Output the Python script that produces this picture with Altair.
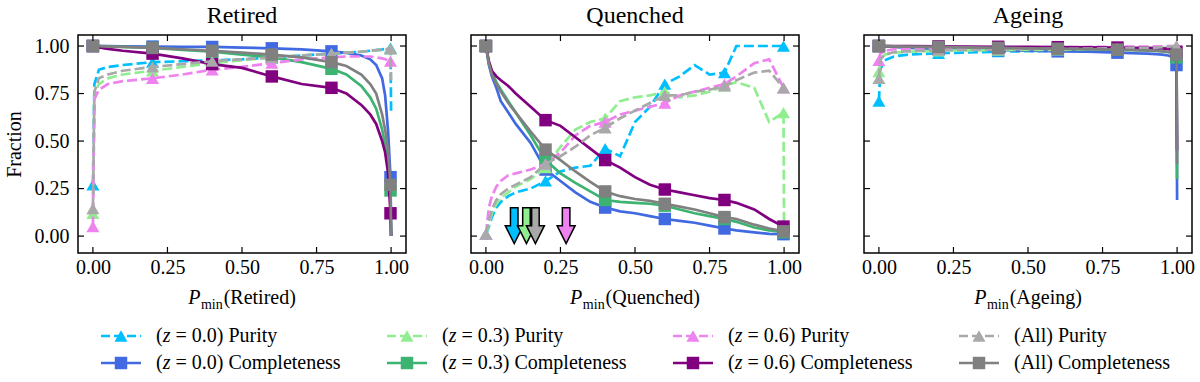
import altair as alt
import pandas as pd

FONT = "'Liberation Serif', 'DejaVu Serif', serif"

# ---------------------------------------------------------------- series
SERIES = [
    "(z = 0.0) Purity", "(z = 0.0) Completeness",
    "(z = 0.3) Purity", "(z = 0.3) Completeness",
    "(z = 0.6) Purity", "(z = 0.6) Completeness",
    "(All) Purity", "(All) Completeness",
]
COLORS = ["#00bfff", "#4169e1", "#90ee90", "#3cb371",
          "#ee82ee", "#800080", "#a9a9a9", "#808080"]
KINDS = ["Purity", "Completeness"] * 4

TICKS = [0.0, 0.25, 0.5, 0.75, 1.0]
MARK_X = [0.0, 0.2, 0.4, 0.6, 0.8, 0.998]

# ---------------------------------------------------------------- Retired
X_RET = [0, 0.005, 0.02, 0.05, 0.1, 0.2, 0.3, 0.4, 0.5, 0.6, 0.7, 0.8,
         0.85, 0.9, 0.93, 0.95, 0.97, 0.98, 0.99, 0.998, 1.0]
R_PUR_Z00 = [0.27, 0.80, 0.875, 0.89, 0.90, 0.915, 0.92, 0.925, 0.93, 0.94, 0.95,
             0.96, 0.965, 0.97, 0.975, 0.978, 0.982, 0.985, 0.99, 0.99, 0.66]
R_COM_Z00 = [1.0, 1.0, 1.0, 0.999, 0.998, 0.997, 0.996, 0.995, 0.992, 0.988, 0.982,
             0.972, 0.964, 0.95, 0.93, 0.90, 0.83, 0.74, 0.55, 0.31, 0.0]
R_PUR_Z03 = [0.12, 0.74, 0.80, 0.83, 0.85, 0.87, 0.89, 0.91, 0.925, 0.94, 0.95,
             0.96, 0.965, 0.97, 0.975, 0.978, 0.98, 0.982, 0.985, 0.985, 0.99]
R_COM_Z03 = [1.0, 1.0, 0.999, 0.998, 0.996, 0.99, 0.98, 0.97, 0.955, 0.94, 0.915,
             0.88, 0.85, 0.79, 0.73, 0.67, 0.56, 0.48, 0.38, 0.24, 0.0]
R_PUR_Z06 = [0.05, 0.72, 0.77, 0.80, 0.815, 0.83, 0.85, 0.875, 0.89, 0.91, 0.93,
             0.94, 0.945, 0.945, 0.945, 0.94, 0.935, 0.93, 0.925, 0.92, 0.92]
R_COM_Z06 = [1.0, 0.998, 0.993, 0.985, 0.975, 0.96, 0.935, 0.905, 0.885, 0.84, 0.80,
             0.78, 0.75, 0.69, 0.64, 0.59, 0.50, 0.44, 0.33, 0.12, 0.0]
R_PUR_ALL = [0.145, 0.76, 0.83, 0.85, 0.87, 0.89, 0.905, 0.92, 0.93, 0.94, 0.95,
             0.96, 0.965, 0.97, 0.975, 0.978, 0.98, 0.982, 0.985, 0.985, 0.82]
R_COM_ALL = [1.0, 1.0, 0.999, 0.997, 0.995, 0.99, 0.983, 0.975, 0.965, 0.955, 0.94,
             0.915, 0.895, 0.85, 0.80, 0.75, 0.64, 0.56, 0.45, 0.27, 0.0]

# ---------------------------------------------------------------- Quenched
X_QUE = [0, 0.01, 0.02, 0.035, 0.05, 0.075, 0.1, 0.15, 0.2, 0.25, 0.3, 0.35, 0.4,
         0.45, 0.5, 0.55, 0.6, 0.65, 0.7, 0.75, 0.8, 0.84, 0.9, 0.95, 0.998, 1.0]
Q_PUR_Z00 = [0.01, 0.05, 0.10, 0.15, 0.18, 0.21, 0.23, 0.25, 0.29, 0.34, 0.36, 0.37, 0.46,
             0.42, 0.60, 0.68, 0.80, 0.84, 0.90, 0.85, 0.86, 1.0, 1.0, 1.0, 1.0, 1.0]
Q_COM_Z00 = [1.0, 0.90, 0.84, 0.78, 0.71, 0.65, 0.59, 0.49, 0.35, 0.29, 0.23, 0.18, 0.15,
             0.13, 0.12, 0.105, 0.09, 0.08, 0.07, 0.055, 0.04, 0.03, 0.02, 0.012, 0.01, 0.005]
Q_PUR_Z03 = [0.01, 0.06, 0.12, 0.17, 0.20, 0.23, 0.26, 0.30, 0.36, 0.47, 0.56, 0.60, 0.62,
             0.71, 0.73, 0.74, 0.76, 0.73, 0.74, 0.76, 0.79, 0.81, 0.78, 0.60, 0.65, 0.01]
Q_COM_Z03 = [1.0, 0.91, 0.86, 0.81, 0.77, 0.71, 0.65, 0.53, 0.40, 0.33, 0.28, 0.235, 0.19,
             0.18, 0.175, 0.17, 0.16, 0.14, 0.12, 0.105, 0.09, 0.075, 0.045, 0.03, 0.02, 0.015]
Q_PUR_Z06 = [0.01, 0.15, 0.21, 0.26, 0.29, 0.32, 0.33, 0.35, 0.38, 0.44, 0.53, 0.58, 0.60,
             0.64, 0.66, 0.68, 0.70, 0.74, 0.76, 0.78, 0.80, 0.84, 0.91, 0.93, 0.78, 0.77]
Q_COM_Z06 = [1.0, 0.92, 0.87, 0.84, 0.82, 0.79, 0.75, 0.68, 0.61, 0.58, 0.52, 0.46, 0.40,
             0.36, 0.31, 0.27, 0.245, 0.23, 0.215, 0.20, 0.19, 0.175, 0.14, 0.09, 0.05, 0.03]
Q_PUR_ALL = [0.01, 0.08, 0.14, 0.19, 0.22, 0.25, 0.27, 0.31, 0.38, 0.42, 0.47, 0.53, 0.57,
             0.62, 0.66, 0.70, 0.74, 0.74, 0.76, 0.77, 0.79, 0.82, 0.86, 0.87, 0.78, 0.77]
Q_COM_ALL = [1.0, 0.91, 0.85, 0.80, 0.76, 0.70, 0.65, 0.55, 0.455, 0.40, 0.34, 0.285, 0.235,
             0.21, 0.195, 0.185, 0.17, 0.155, 0.14, 0.12, 0.10, 0.09, 0.06, 0.04, 0.025, 0.02]

# thresholds marked with arrows in the Quenched panel
ARROW_X = [0.095, 0.136, 0.166, 0.269]
ARROW_SERIES = ["(z = 0.0) Purity", "(z = 0.3) Purity", "(All) Purity", "(z = 0.6) Purity"]
ARROW_Y = 0.055

# ---------------------------------------------------------------- Ageing
X_AGE = X_RET
A_PUR_Z00 = [0.71, 0.88, 0.925, 0.945, 0.955, 0.962, 0.966, 0.97, 0.973, 0.975, 0.977,
             0.98, 0.982, 0.984, 0.986, 0.988, 0.99, 0.99, 0.99, 0.99, 0.99]
A_COM_Z00 = [1.0, 1.0, 0.998, 0.995, 0.99, 0.985, 0.982, 0.978, 0.975, 0.972, 0.97,
             0.965, 0.962, 0.96, 0.957, 0.955, 0.95, 0.945, 0.93, 0.90, 0.19]
A_PUR_Z03 = [0.865, 0.93, 0.955, 0.965, 0.97, 0.975, 0.977, 0.978, 0.98, 0.98, 0.982,
             0.984, 0.985, 0.987, 0.988, 0.99, 0.99, 0.992, 0.993, 0.995, 0.995]
A_COM_Z03 = [1.0, 1.0, 0.999, 0.998, 0.996, 0.993, 0.991, 0.99, 0.988, 0.986, 0.984,
             0.98, 0.978, 0.976, 0.974, 0.972, 0.968, 0.965, 0.96, 0.94, 0.30]
A_PUR_Z06 = [0.925, 0.96, 0.975, 0.983, 0.987, 0.99, 0.991, 0.992, 0.993, 0.994, 0.995,
             0.996, 0.997, 0.997, 0.998, 0.998, 0.999, 0.999, 1.0, 1.0, 1.0]
A_COM_Z06 = [1.0, 1.0, 1.0, 1.0, 0.999, 0.998, 0.997, 0.996, 0.995, 0.994, 0.993,
             0.992, 0.991, 0.99, 0.989, 0.988, 0.985, 0.98, 0.975, 0.97, 0.45]
A_PUR_ALL = [0.83, 0.93, 0.955, 0.968, 0.973, 0.978, 0.98, 0.982, 0.984, 0.985, 0.986,
             0.988, 0.99, 0.99, 0.992, 0.994, 0.996, 0.998, 1.0, 1.0, 1.0]
A_COM_ALL = [1.0, 1.0, 0.999, 0.998, 0.997, 0.995, 0.993, 0.99, 0.988, 0.986, 0.984,
             0.981, 0.979, 0.977, 0.975, 0.973, 0.97, 0.966, 0.96, 0.955, 0.38]

# ---------------------------------------------------------------- layout
W, H = 328, 218
XDOM = [-0.05, 1.05]
YDOM = [-0.089, 1.058]
LINE_W = 2.7
DASH = [10, 4]
TRI_SIZE = 170
SQ_SIZE = 155
ARROW_PATH = "M-0.21,-1L0.21,-1L0.21,0L0.5,0L0,1L-0.5,0L-0.21,0Z"

# glyph advance widths (em/1000) of the serif face, used to centre the x titles
GLYPH = {"(": 333, ")": 333, "R": 667, "e": 444, "t": 278, "i": 278, "r": 333,
         "d": 500, "Q": 722, "u": 500, "n": 500, "c": 444, "h": 500, "A": 722, "g": 500}

X_AXIS = alt.Axis(values=TICKS, format=".2f", ticks=False, domain=False, grid=False,
                  labelFont=FONT, labelFontSize=20, labelColor="black",
                  labelPadding=4, labelFlush=False, title=None)
Y_AXIS = alt.Axis(values=TICKS, format=".2f", ticks=False, domain=False, grid=False,
                  labelFont=FONT, labelFontSize=20, labelColor="black", labelPadding=9,
                  title="Fraction", titleFont=FONT, titleFontSize=20,
                  titleFontWeight="normal", titleColor="black", titlePadding=10)


def panel(name, xgrid, curves, with_y, arrows=False):
    xs = alt.Scale(domain=XDOM, nice=False, zero=False)
    ys = alt.Scale(domain=YDOM, nice=False, zero=False)
    df = pd.DataFrame([
        {"series": s, "x": x, "y": v, "marker": x in MARK_X}
        for s, vals in zip(SERIES, curves) for x, v in zip(xgrid, vals)
    ])
    y_axis = Y_AXIS if with_y else None
    X = alt.X("x:Q", scale=xs, axis=X_AXIS)
    Y = alt.Y("y:Q", scale=ys, axis=y_axis)

    layers = []
    for s, c, k in zip(SERIES, COLORS, KINDS):
        sub = alt.Chart(df).transform_filter(alt.datum.series == s)
        line_kw = {"color": c, "strokeWidth": LINE_W}
        if k == "Purity":
            line_kw["strokeDash"] = DASH
        layers.append(sub.mark_line(**line_kw).encode(x=X, y=Y))
        layers.append(
            sub.transform_filter("datum.marker")
            .mark_point(shape="triangle-up" if k == "Purity" else "square",
                        size=TRI_SIZE if k == "Purity" else SQ_SIZE,
                        filled=True, opacity=1, color=c)
            .encode(x=X, y=Y)
        )

    # inward ticks on all four sides
    tk = alt.Chart(pd.DataFrame({"t": TICKS})).mark_rule(color="black", strokeWidth=1.2)
    TY = alt.Y("t:Q", scale=ys, axis=y_axis)
    TX = alt.X("t:Q", scale=xs, axis=X_AXIS)
    layers += [
        tk.encode(y=TY, x=alt.value(0), x2=alt.value(6)),
        tk.encode(y=TY, x=alt.value(W - 6), x2=alt.value(W)),
        tk.encode(x=TX, y=alt.value(H - 6), y2=alt.value(H)),
        tk.encode(x=TX, y=alt.value(0), y2=alt.value(6)),
    ]

    # x title: P_min(name)
    one = alt.Data(values=[{"k": 0}])
    label = "(" + name + ")"
    name_w = sum(GLYPH.get(ch, 500) for ch in label) * 20 / 1000
    x0 = W / 2 - (35.5 + name_w) / 2
    base_y = H + 51
    layers += [
        alt.Chart(one).mark_text(text="P", font=FONT, fontSize=20, fontStyle="italic",
                                 align="left", baseline="alphabetic", color="black")
        .encode(x=alt.value(x0), y=alt.value(base_y)),
        alt.Chart(one).mark_text(text="min", font=FONT, fontSize=14,
                                 align="left", baseline="alphabetic", color="black")
        .encode(x=alt.value(x0 + 12.8), y=alt.value(base_y + 5)),
        alt.Chart(one).mark_text(text=label, font=FONT, fontSize=20,
                                 align="left", baseline="alphabetic", color="black")
        .encode(x=alt.value(x0 + 35.5), y=alt.value(base_y)),
    ]

    if arrows:
        for ax, s in zip(ARROW_X, ARROW_SERIES):
            c = COLORS[SERIES.index(s)]
            layers.append(
                alt.Chart(pd.DataFrame({"x": [ax], "y": [ARROW_Y]}))
                .mark_point(shape=ARROW_PATH, size=1296, filled=True, opacity=1,
                            color=c, stroke="black", strokeWidth=1.5)
                .encode(x=X, y=Y)
            )

    return alt.layer(*layers).properties(
        width=W, height=H,
        title=alt.TitleParams(name, font=FONT, fontSize=24, fontWeight="normal",
                              color="black", offset=6),
    )


p_ret = panel("Retired", X_RET,
              [R_PUR_Z00, R_COM_Z00, R_PUR_Z03, R_COM_Z03,
               R_PUR_Z06, R_COM_Z06, R_PUR_ALL, R_COM_ALL], True)
p_que = panel("Quenched", X_QUE,
              [Q_PUR_Z00, Q_COM_Z00, Q_PUR_Z03, Q_COM_Z03,
               Q_PUR_Z06, Q_COM_Z06, Q_PUR_ALL, Q_COM_ALL], False, arrows=True)
p_age = panel("Ageing", X_AGE,
              [A_PUR_Z00, A_COM_Z00, A_PUR_Z03, A_COM_Z03,
               A_PUR_Z06, A_COM_Z06, A_PUR_ALL, A_COM_ALL], False)

# ---------------------------------------------------------------- legend
leg_rows = []
for i, (s, k) in enumerate(zip(SERIES, KINDS)):
    if s.startswith("(z"):
        p1, p2, p3 = "(", "z", s[2:].strip()
    else:
        p1, p2, p3 = s, "", ""
    leg_rows.append({"series": s, "col": i // 2, "row": i % 2, "kind": k,
                     "p1": p1, "p2": p2, "p3": p3})
leg = pd.DataFrame(leg_rows)

LEG_X0 = 23
LEG_DX = 286
LEG_Y0 = 14
LEG_DY = 27
LX = alt.X("col:Q", scale=alt.Scale(domain=[0, 3], range=[LEG_X0, LEG_X0 + 3 * LEG_DX]), axis=None)
LY = alt.Y("row:Q", scale=alt.Scale(domain=[0, 1], range=[LEG_Y0, LEG_Y0 + LEG_DY]), axis=None)
LC = alt.Color("series:N", scale=alt.Scale(domain=SERIES, range=COLORS), legend=None)

lb = alt.Chart(leg)
pur = lb.transform_filter(alt.datum.kind == "Purity")
com = lb.transform_filter(alt.datum.kind == "Completeness")
legend_chart = alt.layer(
    pur.mark_rule(strokeWidth=LINE_W, strokeDash=[9, 4], x2Offset=40).encode(x=LX, x2="col:Q", y=LY, color=LC),
    com.mark_rule(strokeWidth=LINE_W, x2Offset=40).encode(x=LX, x2="col:Q", y=LY, color=LC),
    pur.mark_point(shape="triangle-up", size=TRI_SIZE, filled=True, opacity=1, xOffset=20)
    .encode(x=LX, y=LY, color=LC),
    com.mark_point(shape="square", size=SQ_SIZE, filled=True, opacity=1, xOffset=20)
    .encode(x=LX, y=LY, color=LC),
    lb.mark_text(align="left", baseline="middle", dx=55, font=FONT, fontSize=20, color="black")
    .encode(x=LX, y=LY, text="p1:N"),
    lb.mark_text(align="left", baseline="middle", dx=55 + 6.7, font=FONT, fontSize=20,
                 fontStyle="italic", color="black")
    .encode(x=LX, y=LY, text="p2:N"),
    lb.mark_text(align="left", baseline="middle", dx=55 + 19.5, font=FONT, fontSize=20, color="black")
    .encode(x=LX, y=LY, text="p3:N"),
).properties(width=1100, height=46, view=alt.ViewBackground(stroke="transparent"))

top = alt.hconcat(p_ret, p_que, p_age, spacing=57)
chart = (
    alt.vconcat(top, legend_chart, spacing=8)
    .properties(padding={"left": 3, "top": 3, "right": 0, "bottom": 0}, background="white")
    .configure(font=FONT)
    .configure_view(stroke="black", strokeWidth=1.5)
)

chart.save("out.html", embed_options={"renderer": "svg", "actions": False})
